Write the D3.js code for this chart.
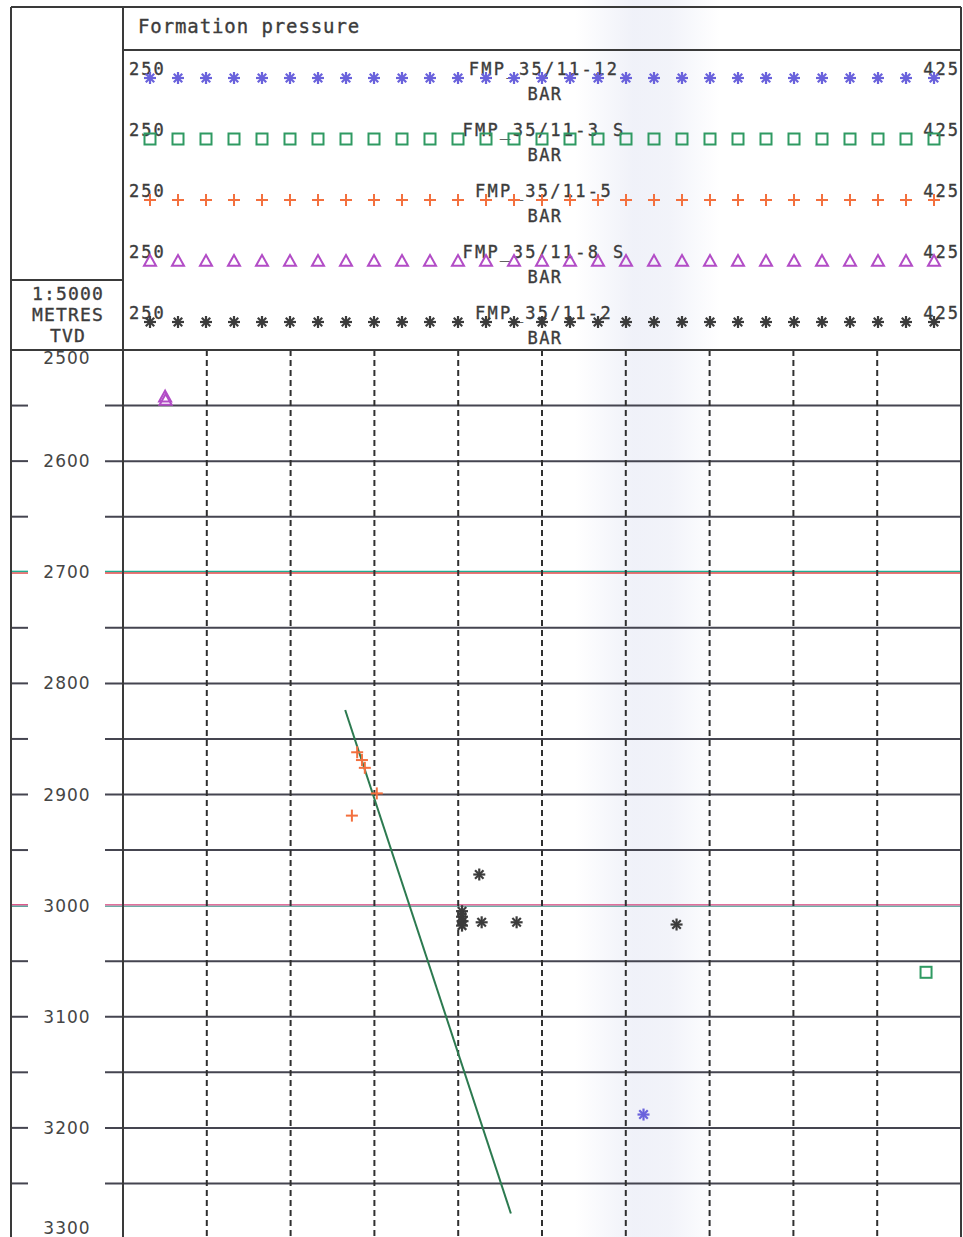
<!DOCTYPE html>
<html>
<head>
<meta charset="utf-8">
<script src="https://cdn.jsdelivr.net/npm/d3@7"></script>
<style>
  html, body { margin: 0; padding: 0; background: #ffffff; }
  svg { display: block; }
  .mono { font-family: "DejaVu Sans Mono", monospace; fill: #3c3c3c; stroke: #3c3c3c; stroke-width: 0.35; }
  .axis { font-family: "DejaVu Sans", sans-serif; fill: #454545; }
</style>
</head>
<body>
<svg id="chart" width="963" height="1237"></svg>
<script>
// ---------------- data ----------------
const titleText = "Formation pressure";
const scaleText = ["1:5000", "METRES", "TVD"];
const pressureDomain = [250, 425];            // BAR
const depthDomain = [2500, 3300];             // metres TVD
const depthLabels = [2500, 2600, 2700, 2800, 2900, 3000, 3100, 3200, 3300];
const depthGrid = [2550, 2600, 2650, 2700, 2750, 2800, 2850, 2900, 2950, 3000, 3050, 3100, 3150, 3200, 3250];
const pressureGrid = [267.5, 285, 302.5, 320, 337.5, 355, 372.5, 390, 407.5];
const unitLabel = "BAR";

const wellNames = ["FMP_35/11-12", "FMP_35/11-3 S", "FMP_35/11-5", "FMP_35/11-8 S", "FMP_35/11-2"];
const wellSymbols = ["asterisk", "square", "plus", "triangle", "asterisk"];
const wellColors = ["#6a62dc", "#2f9a62", "#f3703e", "#b24cc6", "#3c3c3c"];

const well12 = [{p: 358.7, d: 3188}];
const well3S = [{p: 417.7, d: 3060}];
const well5 = [
  {p: 298.9, d: 2862}, {p: 299.9, d: 2869}, {p: 300.5, d: 2876},
  {p: 303.0, d: 2899}, {p: 297.8, d: 2919}
];
const well8S = [{p: 258.8, d: 2542}, {p: 258.9, d: 2545}];
const well2 = [
  {p: 324.4, d: 2972}, {p: 320.8, d: 3005}, {p: 320.8, d: 3010},
  {p: 320.9, d: 3014}, {p: 320.8, d: 3018}, {p: 324.9, d: 3015},
  {p: 332.2, d: 3015}, {p: 365.6, d: 3017}
];
const wellData = [well12, well3S, well5, well8S, well2];
const trendLine = [{p: 296.4, d: 2824}, {p: 331.0, d: 3277}];
const legendMarkerCount = 29;

// ---------------- layout ----------------
const svg = d3.select("#chart");
const frameL = 11, frameR = 961, frameT = 7, colX = 123;
const titleB = 50, legendB = 350, scaleBoxT = 280;
const plotBottom = 1239;
const lineCol = "#454550";

const x = d3.scaleLinear().domain(pressureDomain).range([colX, frameR]);
const y = d3.scaleLinear().domain(depthDomain).range([legendB, plotBottom]);

// background scan band
const defs = svg.append("defs");
const grad = defs.append("linearGradient").attr("id", "band");
grad.append("stop").attr("offset", "0%").attr("stop-color", "#eceef7").attr("stop-opacity", 0);
grad.append("stop").attr("offset", "40%").attr("stop-color", "#eceef7").attr("stop-opacity", 0.8);
grad.append("stop").attr("offset", "65%").attr("stop-color", "#eceef7").attr("stop-opacity", 0.7);
grad.append("stop").attr("offset", "100%").attr("stop-color", "#eceef7").attr("stop-opacity", 0);
svg.append("rect").attr("x", 575).attr("y", 0).attr("width", 145).attr("height", 1237).attr("fill", "url(#band)");

defs.append("clipPath").attr("id", "plotclip")
  .append("rect").attr("x", 0).attr("y", legendB + 1).attr("width", 963).attr("height", 1237 - legendB);

// ---------------- symbols ----------------
function drawSymbol(g, type, cx, cy, color, s) {
  s = s || 6;
  if (type === "asterisk") {
    [0, 45, 90, 135].forEach(a => {
      const r = a * Math.PI / 180;
      g.append("line")
        .attr("x1", cx - s * Math.cos(r)).attr("y1", cy - s * Math.sin(r))
        .attr("x2", cx + s * Math.cos(r)).attr("y2", cy + s * Math.sin(r))
        .attr("stroke", color).attr("stroke-width", 2.2);
    });
  } else if (type === "square") {
    g.append("rect").attr("x", cx - s + 0.5).attr("y", cy - s + 0.5)
      .attr("width", 2 * s - 1).attr("height", 2 * s - 1)
      .attr("fill", "none").attr("stroke", color).attr("stroke-width", 2);
  } else if (type === "plus") {
    g.append("line").attr("x1", cx - s).attr("y1", cy).attr("x2", cx + s).attr("y2", cy)
      .attr("stroke", color).attr("stroke-width", 2);
    g.append("line").attr("x1", cx).attr("y1", cy - s).attr("x2", cx).attr("y2", cy + s)
      .attr("stroke", color).attr("stroke-width", 2);
  } else if (type === "triangle") {
    g.append("path")
      .attr("d", `M${cx},${cy - s}L${cx + s},${cy + s * 0.8}L${cx - s},${cy + s * 0.8}Z`)
      .attr("fill", "none").attr("stroke", color).attr("stroke-width", 2);
  }
}

// ---------------- grid ----------------
const grid = svg.append("g");
function hline(x1, x2, yy, color, w) {
  grid.append("line").attr("x1", x1).attr("x2", x2).attr("y1", yy).attr("y2", yy)
    .attr("stroke", color).attr("stroke-width", w);
}
depthGrid.forEach(d => {
  const yy = y(d);
  [[frameL, 28], [105, frameR]].forEach(([a, b]) => {
    if (d === 2700) {
      hline(a, b, yy - 0.8, "#1fae92", 1.6);
      hline(a, b, yy + 0.8, "#e04a4a", 1.4);
    } else if (d === 3000) {
      hline(a, b, yy - 0.8, "#d8407c", 1.4);
      hline(a, b, yy + 0.6, "#40908a", 1.2);
    } else {
      hline(a, b, yy, lineCol, 2);
    }
  });
});
pressureGrid.forEach(p => {
  grid.append("line").attr("x1", x(p)).attr("x2", x(p)).attr("y1", legendB).attr("y2", 1237)
    .attr("stroke", "#303030").attr("stroke-width", 2).attr("stroke-dasharray", "6,4");
});

// depth labels
const labG = svg.append("g").attr("clip-path", "url(#plotclip)");
depthLabels.forEach(d => {
  const yy = Math.max(y(depthDomain[0]) + 8, Math.min(y(depthDomain[1]) - 11, y(d)));
  labG.append("text").attr("class", "axis").attr("x", 67).attr("y", yy)
    .attr("text-anchor", "middle").attr("dominant-baseline", "central")
    .attr("font-size", 17).attr("letter-spacing", 1)
    .attr("fill", d === 2700 ? "#2a6f6a" : "#454545")
    .text(d);
});

// ---------------- frame ----------------
const frame = svg.append("g").attr("stroke", "#3a3a3a").attr("stroke-width", 2).attr("fill", "none");
frame.append("line").attr("x1", frameL).attr("x2", frameR).attr("y1", frameT).attr("y2", frameT);
frame.append("line").attr("x1", frameL).attr("x2", frameL).attr("y1", frameT).attr("y2", 1237);
frame.append("line").attr("x1", frameR).attr("x2", frameR).attr("y1", frameT).attr("y2", 1237);
frame.append("line").attr("x1", colX).attr("x2", colX).attr("y1", frameT).attr("y2", 1237);
frame.append("line").attr("x1", colX).attr("x2", frameR).attr("y1", titleB).attr("y2", titleB);
frame.append("line").attr("x1", frameL).attr("x2", frameR).attr("y1", legendB).attr("y2", legendB);
frame.append("line").attr("x1", frameL).attr("x2", colX).attr("y1", scaleBoxT).attr("y2", scaleBoxT);

// title
svg.append("text").attr("class", "mono").attr("x", 138).attr("y", 33)
  .attr("font-size", 19).attr("letter-spacing", 0.9).text(titleText);

// scale box
scaleText.forEach((t, i) => {
  svg.append("text").attr("class", "mono").attr("x", 68).attr("y", 300 + i * 21)
    .attr("text-anchor", "middle").attr("font-size", 18).attr("letter-spacing", 1.2).text(t);
});

// ---------------- legend ----------------
const legendXs = d3.range(legendMarkerCount).map(i => 150 + i * (934 - 150) / (legendMarkerCount - 1));
const midX = (x.range()[0] + x.range()[1]) / 2;
wellNames.forEach((name, i) => {
  const cy = 78 + i * 61;
  const g = svg.append("g");
  g.append("text").attr("class", "mono").attr("x", 129).attr("y", cy - 3)
    .attr("font-size", 17).attr("letter-spacing", 2.0).text(pressureDomain[0]);
  g.append("text").attr("class", "mono").attr("x", 960).attr("y", cy - 3)
    .attr("text-anchor", "end").attr("font-size", 17).attr("letter-spacing", 2.0).text(pressureDomain[1]);
  g.append("text").attr("class", "mono").attr("x", midX + 2).attr("y", cy - 3)
    .attr("text-anchor", "middle").attr("font-size", 17).attr("letter-spacing", 2.3).text(name);
  g.append("text").attr("class", "mono").attr("x", midX + 3).attr("y", cy + 22)
    .attr("text-anchor", "middle").attr("font-size", 17).attr("letter-spacing", 1.5).text(unitLabel);
  legendXs.forEach(lx => drawSymbol(g, wellSymbols[i], lx, cy, wellColors[i], 6));
});

// ---------------- data ----------------
const dataG = svg.append("g").attr("clip-path", "url(#plotclip)");
dataG.append("path")
  .attr("d", d3.line().x(d => x(d.p)).y(d => y(d.d))(trendLine))
  .attr("stroke", "#2c7a50").attr("stroke-width", 2).attr("fill", "none");
wellData.forEach((arr, i) => {
  arr.forEach(pt => drawSymbol(dataG, wellSymbols[i], x(pt.p), y(pt.d), wellColors[i], 6));
});
</script>
</body>
</html>
